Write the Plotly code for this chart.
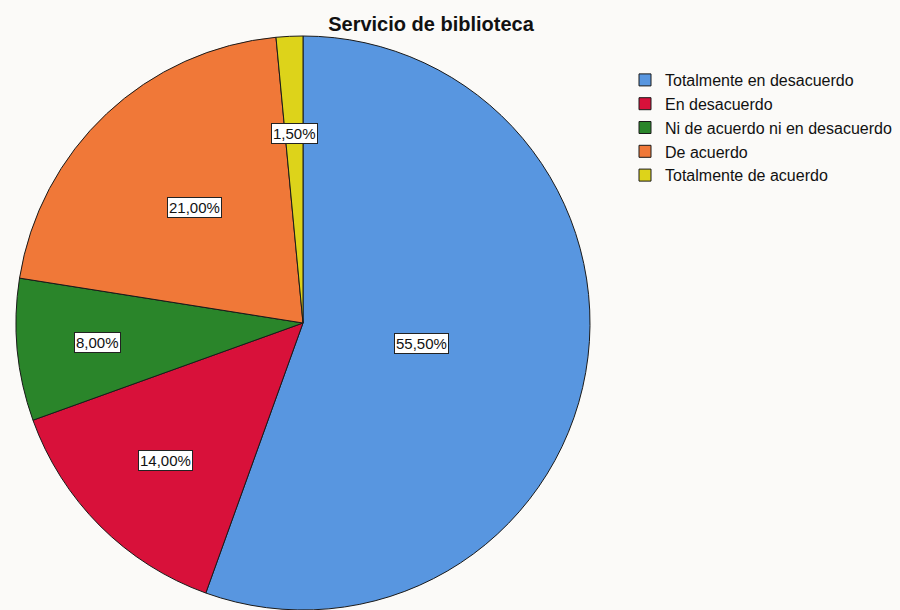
import math

import plotly.graph_objects as go

categories = [
    "Totalmente en desacuerdo",
    "En desacuerdo",
    "Ni de acuerdo ni en desacuerdo",
    "De acuerdo",
    "Totalmente de acuerdo",
]
percentages = [55.5, 14.0, 8.0, 21.0, 1.5]
slice_colors = ["#5896E0", "#D8113A", "#2A852A", "#F07838", "#DDD31A"]
# how far out from the centre each boxed label sits (fraction of radius)
label_radius = [0.42, 0.68, 0.72, 0.55, 0.66]

W, H = 900, 610
CX, CY, R = 303, 323, 287  # pie centre / radius in pixels

figure = go.Figure(
    data=[
        go.Pie(
            labels=categories,
            values=percentages,
            sort=False,
            direction="clockwise",
            rotation=0,
            textinfo="none",
            hoverinfo="label+percent",
            marker={"colors": slice_colors, "line": {"color": "#1a1a1a", "width": 1}},
            domain={"x": [(CX - R) / W, (CX + R) / W], "y": [(H - CY - R) / H, (H - CY + R) / H]},
        )
    ]
)

# boxed percentage labels, placed at each slice's mid angle
annotations = []
total = sum(percentages)
start = 0.0
for value, frac in zip(percentages, label_radius):
    mid = (start + value / 2) / total * 2 * math.pi
    start += value
    px = CX + frac * R * math.sin(mid)
    py = CY - frac * R * math.cos(mid)
    annotations.append(
        {
            "x": px / W,
            "y": (H - py) / H,
            "xref": "paper",
            "yref": "paper",
            "xanchor": "center",
            "yanchor": "middle",
            "text": f"{value:.2f}%".replace(".", ","),
            "showarrow": False,
            "font": {"family": "Liberation Sans, Arial", "size": 15, "color": "#111111"},
            "bgcolor": "#ffffff",
            "bordercolor": "#222222",
            "borderwidth": 1,
            "borderpad": 1,
        }
    )

figure.update_layout(
    width=W,
    height=H,
    title={
        "text": "<b>Servicio de biblioteca</b>",
        "x": 431 / W,
        "xanchor": "center",
        "y": 1 - 24 / H,
        "yanchor": "middle",
        "font": {"family": "Liberation Sans, Arial", "size": 20, "color": "#111111"},
    },
    annotations=annotations,
    showlegend=True,
    legend={
        "x": 625 / W,
        "y": 1 - 63 / H,
        "xanchor": "left",
        "yanchor": "top",
        "font": {"family": "Liberation Sans, Arial", "size": 16, "color": "#111111"},
        "bgcolor": "rgba(0,0,0,0)",
        "itemwidth": 30,
        "tracegroupgap": 0,
    },
    margin={"l": 0, "r": 0, "t": 0, "b": 0},
    paper_bgcolor="#fbfaf8",
    plot_bgcolor="#fbfaf8",
)

figure.write_html(
    "out.html",
    config={"displayModeBar": False},
    post_script="document.body.style.margin = '0';",
)
